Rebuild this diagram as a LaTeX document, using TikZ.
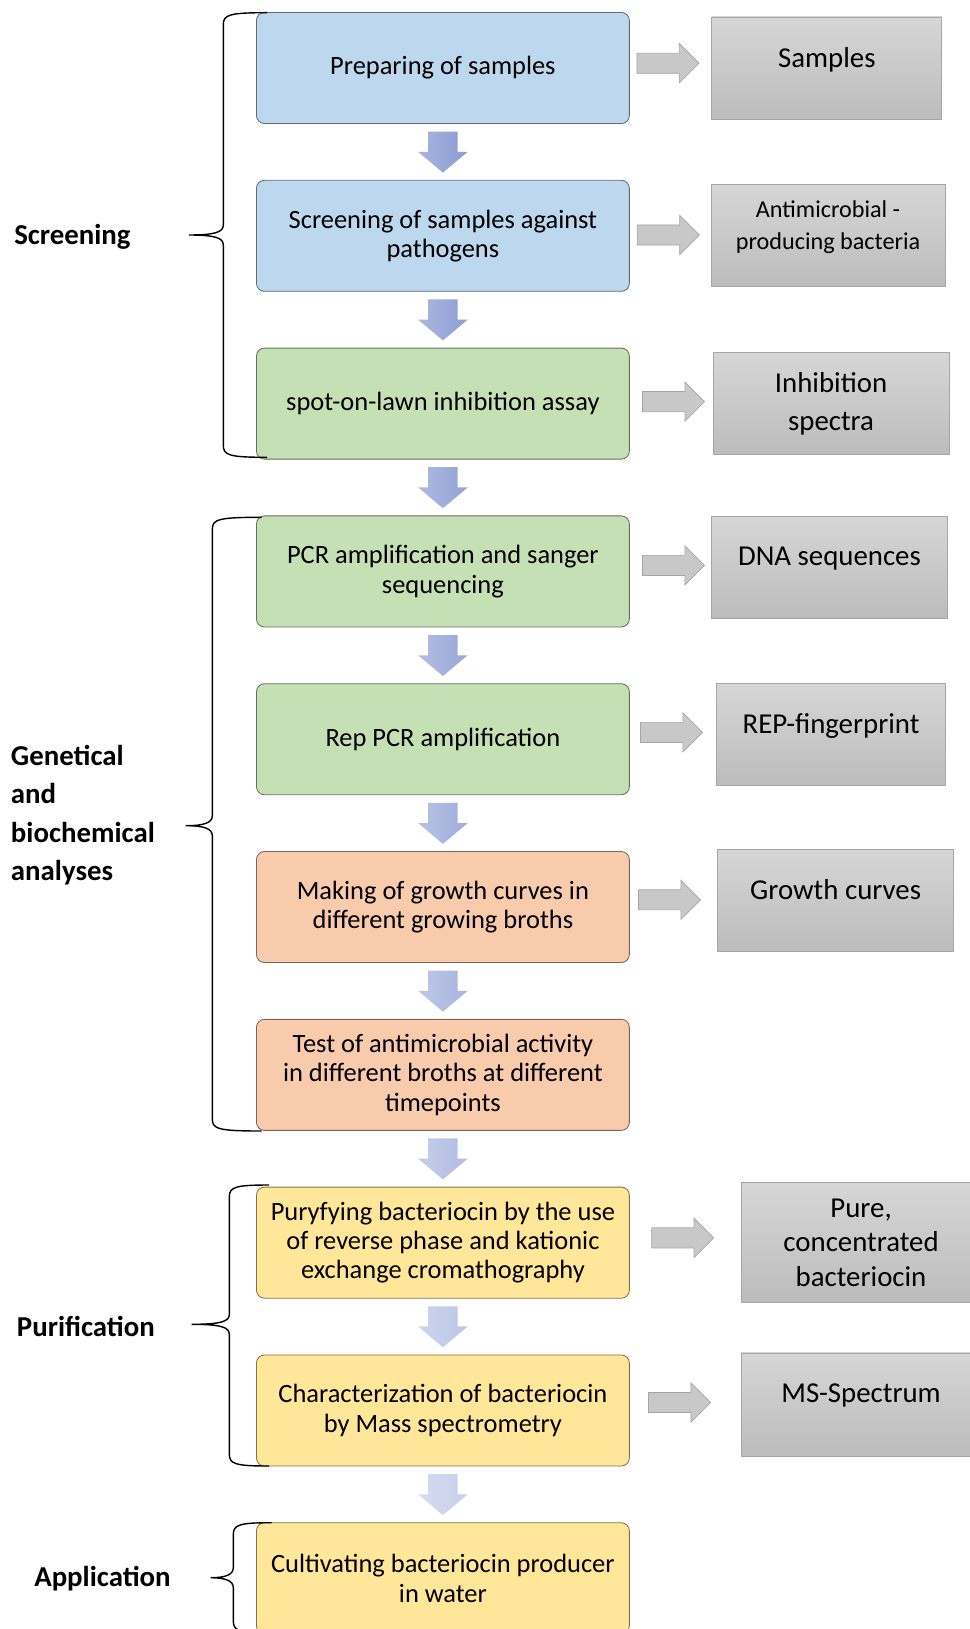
\documentclass[tikz,border=0pt]{standalone}
\usepackage{fontspec}
\setmainfont{Carlito}
\usetikzlibrary{positioning, shapes.arrows}

\definecolor{stepblue}{HTML}{BDD7EE}
\definecolor{stepgreen}{HTML}{C5E0B4}
\definecolor{steporange}{HTML}{F8CBAD}
\definecolor{stepyellow}{HTML}{FFE699}
\definecolor{arrowtop}{HTML}{A9B5DF}
\definecolor{arrowbot}{HTML}{8A9BD3}
\definecolor{outtop}{HTML}{D6D6D6}
\definecolor{outbot}{HTML}{BCBCBC}
\definecolor{outline}{HTML}{A6A6A6}
\definecolor{arrowgray}{HTML}{C8C8C8}
\definecolor{arrowline}{HTML}{A5A5A5}

% left brace: x end, y top, y bottom, x line, x tip, y tip
\newcommand{\leftbrace}[6]{%
  \draw[line width=1pt] (#1,#2) .. controls ({#4+6},#2) and (#4,{#2+2}) .. (#4,{#2+12})
    -- (#4,{#6-10}) .. controls (#4,{#6-3}) and ({#4-8},#6) .. (#5,#6)
    .. controls ({#4-8},#6) and (#4,{#6+3}) .. (#4,{#6+10})
    -- (#4,{#3-12}) .. controls (#4,{#3-2}) and ({#4+6},#3) .. (#1,#3);
}

\begin{document}
\begin{tikzpicture}[
    x=0.025cm, y=-0.025cm,
    stepbox/.style={rectangle, rounded corners=0.2cm, draw=#1!50!black, fill=#1, line width=0.6pt, minimum width=9.32cm, minimum height=2.775cm, align=center, inner sep=0pt, font=\fontsize{18.8}{20.9}\selectfont},
    outbox/.style={rectangle, draw=outline, line width=0.6pt, top color=outtop, bottom color=outbot, minimum height=2.55cm, align=center, inner sep=0pt, font=\fontsize{20.5}{27.3}\selectfont},
    uptext/.style={text depth=0.55cm},
    downarrow/.style={single arrow, rotate=-90, anchor=tail, draw=none, minimum height=1.025cm, minimum width=0pt, inner xsep=0pt, inner ysep=0.3625cm, single arrow head extend=0.25cm, single arrow tip angle=100, left color=arrowtop!#1!white, right color=arrowbot!#1!white},
    outarrow/.style={single arrow, draw=arrowline, fill=arrowgray, line width=0.5pt, minimum height=1.55cm, minimum width=0pt, inner xsep=0pt, inner ysep=0.2425cm, single arrow head extend=0.24cm, single arrow tip angle=90},
    phase/.style={anchor=west, align=left, inner sep=0pt, font=\bfseries\fontsize{20.5}{27.3}\selectfont}
]
    \useasboundingbox (0,0) rectangle (970,1629);

    % steps
    \node[stepbox=stepblue] (prep) at (442.9,68) {Preparing of samples};
    \node[stepbox=stepblue, below=1.398cm of prep] (screen) {Screening of samples against\\pathogens};
    \node[stepbox=stepgreen, below=1.398cm of screen] (spot) {spot-on-lawn inhibition assay};
    \node[stepbox=stepgreen, below=1.398cm of spot] (pcr) {PCR amplification and sanger\\sequencing};
    \node[stepbox=stepgreen, below=1.398cm of pcr] (rep) {Rep PCR amplification};
    \node[stepbox=steporange, below=1.398cm of rep] (growth) {Making of growth curves in\\different growing broths};
    \node[stepbox=steporange, below=1.398cm of growth] (test) {Test of antimicrobial activity\\in different broths at different\\timepoints};
    \node[stepbox=stepyellow, below=1.398cm of test] (purify) {Puryfying bacteriocin by the use\\of reverse phase and kationic\\exchange cromathography};
    \node[stepbox=stepyellow, below=1.398cm of purify] (mass) {Characterization of bacteriocin\\by Mass spectrometry};
    \node[stepbox=stepyellow, below=1.398cm of mass] (water) {Cultivating bacteriocin producer\\in water};

    % arrows between steps
    \node[downarrow=100] (d1) at ([yshift=-0.185cm]prep.south) {};
    \node[downarrow=97] (d2) at ([yshift=-0.185cm]screen.south) {};
    \node[downarrow=93] (d3) at ([yshift=-0.185cm]spot.south) {};
    \node[downarrow=88] (d4) at ([yshift=-0.185cm]pcr.south) {};
    \node[downarrow=82] (d5) at ([yshift=-0.185cm]rep.south) {};
    \node[downarrow=75] (d6) at ([yshift=-0.185cm]growth.south) {};
    \node[downarrow=67] (d7) at ([yshift=-0.185cm]test.south) {};
    \node[downarrow=58] (d8) at ([yshift=-0.185cm]purify.south) {};
    \node[downarrow=48] (d9) at ([yshift=-0.185cm]mass.south) {};

    % results
    \node[outbox, uptext, minimum width=5.75cm, right=2.04cm of prep] (samples) {Samples};
    \node[outbox, uptext, minimum width=5.85cm, right=2.02cm of screen, font=\fontsize{17.2}{22.9}\selectfont] (producers) {Antimicrobial -\\producing bacteria};
    \node[outbox, minimum width=5.9cm, right=2.07cm of spot] (spectra) {Inhibition\\spectra};
    \node[outbox, uptext, minimum width=5.92cm, right=2.02cm of pcr, yshift=0.1cm] (dna) {DNA sequences};
    \node[outbox, uptext, minimum width=5.74cm, right=2.15cm of rep, yshift=0.12cm] (finger) {REP-fingerprint};
    \node[outbox, uptext, minimum width=5.91cm, right=2.18cm of growth, yshift=0.17cm] (curves) {Growth curves};
    \node[outbox, minimum width=6cm, minimum height=3cm, right=2.77cm of purify, font=\fontsize{20.5}{24.4}\selectfont] (pure) {Pure,\\concentrated\\bacteriocin};
    \node[outbox, uptext, minimum width=6cm, minimum height=2.575cm, right=2.77cm of mass, yshift=0.15cm] (spectrum) {MS-Spectrum};

    % arrows to results
    \node[outarrow, right=0.17cm of prep, yshift=0.12cm] (r1) {};
    \node[outarrow, right=0.18cm of screen, yshift=0.02cm] (r2) {};
    \node[outarrow, right=0.31cm of spot, yshift=0.05cm] (r3) {};
    \node[outarrow, right=0.31cm of pcr, yshift=0.15cm] (r4) {};
    \node[outarrow, right=0.26cm of rep, yshift=0.17cm] (r5) {};
    \node[outarrow, right=0.21cm of growth, yshift=0.18cm] (r6) {};
    \node[outarrow, right=0.54cm of purify, yshift=0.12cm] (r7) {};
    \node[outarrow, right=0.46cm of mass, yshift=0.2cm] (r8) {};

    % phases
    \node[phase] (screening) at (14,237) {Screening};
    \node[phase] (genetic) at (10.7,815) {Genetical\\and\\biochemical\\analyses};
    \node[phase] (purification) at (16.7,1326) {Purification};
    \node[phase] (application) at (34,1579) {Application};

    \leftbrace{267}{12.7}{457.3}{223.3}{189}{235}
    \leftbrace{261.7}{517.3}{1131}{212.3}{185.7}{825.7}
    \leftbrace{269}{1185}{1466}{229.3}{191.7}{1324.3}
    \leftbrace{271.7}{1522.7}{1633}{233.3}{210.7}{1577.7}
\end{tikzpicture}
\end{document}
